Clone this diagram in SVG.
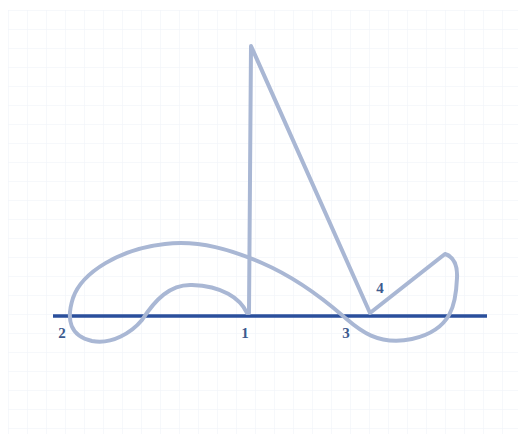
<svg xmlns="http://www.w3.org/2000/svg" width="525" height="443" viewBox="0 0 525 443">
<defs>
<pattern id="grid" x="8" y="10" width="19" height="19" patternUnits="userSpaceOnUse">
<path d="M0,0 H19 M0,0 V19" fill="none" stroke="#eef1f7" stroke-width="1"/>
</pattern>
<style>
.curve{fill:none;stroke:#a9b7d4;stroke-width:4;stroke-linecap:round;stroke-linejoin:round}
.axis{stroke:#2a4f9c;stroke-width:3.5}
.lbl{font-family:"Liberation Serif","DejaVu Serif",serif;font-size:15px;font-weight:bold;fill:#3d5a8e;text-anchor:middle}
</style>
</defs>
<rect width="525" height="443" fill="#ffffff"/>
<rect x="8" y="10" width="510" height="424" fill="url(#grid)"/>
<g id="axis"><line class="axis" x1="53" y1="316" x2="487" y2="316"/></g>
<g id="curve">
<path class="curve" d="M249,313 L251,46 L370,313 L445,254 Q458,258 457,278 C456,302 453,330 412,339 C375,347 355,326 343,316 C320,296 292,276 262,263 C232,250 200,240 165,244 C120,249 82,272 73,298 C66,320 70,336 92,341 C112,345 132,332 142,320 C155,300 170,284 192,285 C222,286 240,298 247,313"/>
</g>
<g id="labels">
<text class="lbl" x="62" y="338">2</text>
<text class="lbl" x="245" y="338">1</text>
<text class="lbl" x="346" y="338">3</text>
<text class="lbl" x="380" y="293">4</text>
</g>
</svg>
